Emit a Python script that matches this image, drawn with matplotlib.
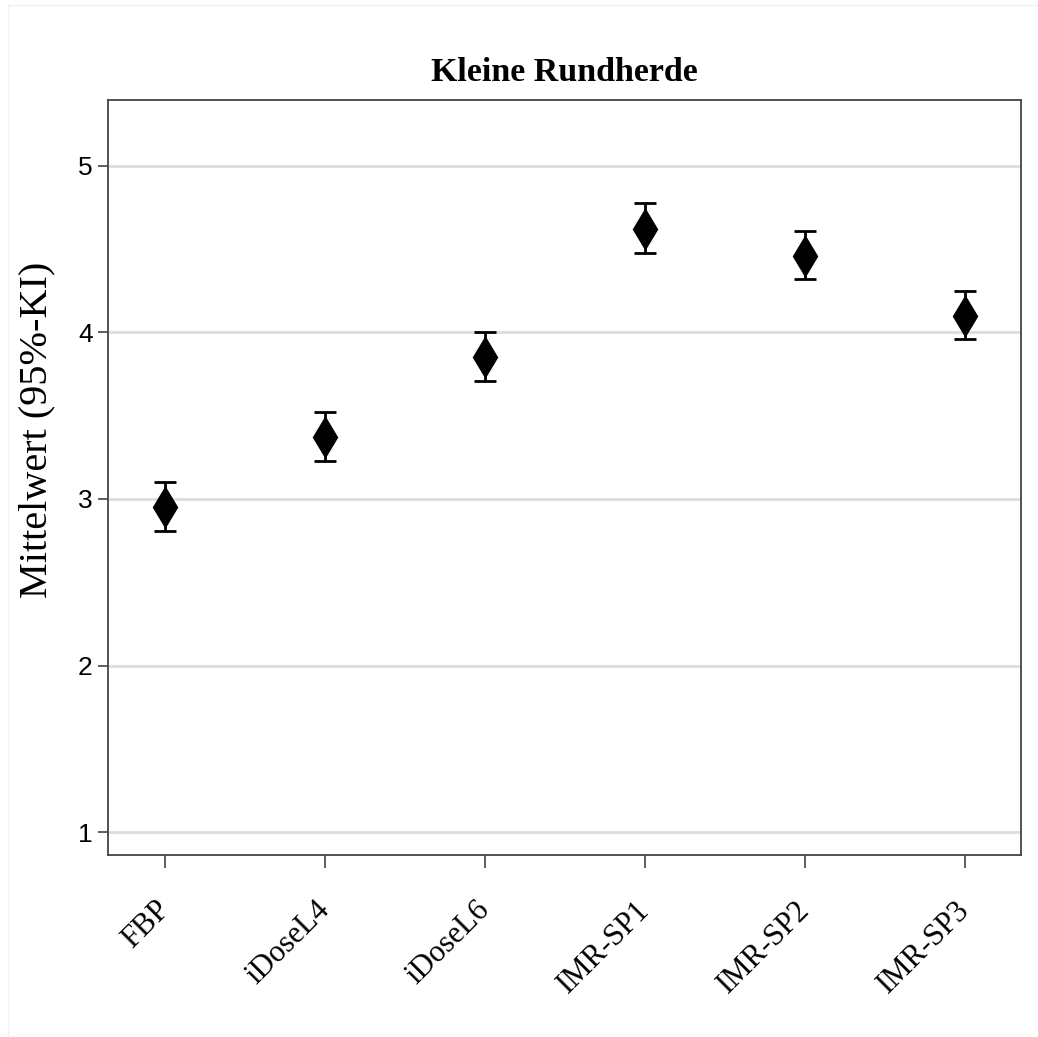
import numpy as np
import matplotlib.pyplot as plt
from matplotlib.lines import Line2D

categories = ['FBP', 'iDoseL4', 'iDoseL6', 'IMR-SP1', 'IMR-SP2', 'IMR-SP3']
means = [2.95, 3.37, 3.855, 4.62, 4.46, 4.10]
upper = [3.10, 3.52, 4.005, 4.78, 4.61, 4.25]
lower = [2.81, 3.23, 3.71, 4.48, 4.32, 3.96]

serif = 'Liberation Serif'
sans = 'Liberation Sans'

fig = plt.figure(figsize=(10.38, 10.37), dpi=100)
# faint frame lines seen at the top and left edge of the picture
fig.add_artist(Line2D([8 / 1038, 8 / 1038], [0, 1 - 5 / 1037],
                      transform=fig.transFigure, color='#f2f2f2', lw=1))
fig.add_artist(Line2D([8 / 1038, 1], [1 - 5 / 1037, 1 - 5 / 1037],
                      transform=fig.transFigure, color='#f2f2f2', lw=1))

ax = fig.add_axes([108 / 1038, 1 - 855 / 1037, 913 / 1038, 755 / 1037])

x = np.arange(len(categories))
m = np.array(means)
yerr = [m - np.array(lower), np.array(upper) - m]

ax.errorbar(x, m, yerr=yerr, fmt='none', ecolor='black', elinewidth=2,
            capsize=8, capthick=2, zorder=3)
ax.plot(x, m, linestyle='none', marker='d', markersize=20, color='black',
        zorder=4)

ax.set_xlim(-0.356, 5.35)
ax.set_ylim(0.862, 5.396)
ax.set_yticks([1, 2, 3, 4, 5])
ax.yaxis.grid(True, color='#dddddd', linewidth=2)
ax.set_axisbelow(True)

ax.set_xticks(x)
ax.set_xticklabels(categories, rotation=45, ha='right', va='center',
                   rotation_mode='anchor', fontsize=22, family=serif)
for lab in ax.get_yticklabels():
    lab.set_family(sans)
    lab.set_fontsize(19)

ax.tick_params(axis='x', direction='out', length=9.5, width=1.2, pad=27,
               color='#444444')
ax.tick_params(axis='y', direction='out', length=7, width=1.2, pad=4,
               color='#444444')
for s in ax.spines.values():
    s.set_color('#444444')
    s.set_linewidth(1.3)

ax.set_ylabel('Mittelwert (95%-KI)', fontsize=29, family=serif)
ax.yaxis.set_label_coords(-0.058, 0.563)
ax.set_title('Kleine Rundherde', fontsize=24.5, family=serif,
             fontweight='bold', pad=14)

fig.savefig('out.png', dpi=100, facecolor='white')
